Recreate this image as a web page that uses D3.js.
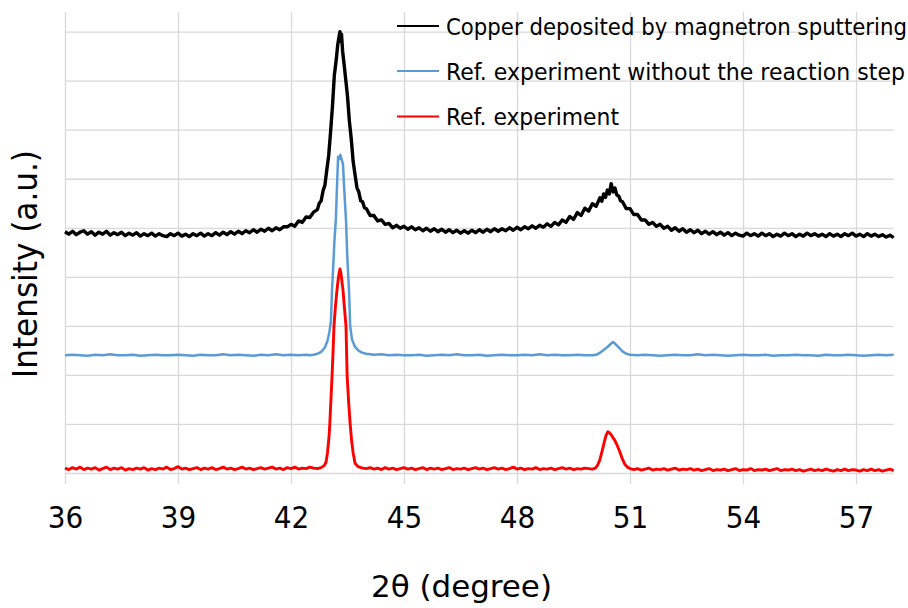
<!DOCTYPE html>
<html>
<head>
<meta charset="utf-8">
<script src="https://cdn.jsdelivr.net/npm/d3@7"></script>
<style>
  html, body { margin: 0; padding: 0; background: #fff; }
  svg { display: block; }
  text { font-family: "DejaVu Sans Condensed", "DejaVu Sans", sans-serif; fill: #000; }
</style>
</head>
<body>
<svg id="chart" width="908" height="608"></svg>
<script>
// XRD patterns, 2θ (degree) vs stacked intensity (a.u.)
const xTicks = [36, 39, 42, 45, 48, 51, 54, 57];
const yGrid = [0, 1, 2, 3, 4, 5, 6, 7, 8, 9];

const seriesNames = [
  "Copper deposited by magnetron sputtering",
  "Ref. experiment without the reaction step",
  "Ref. experiment"
];
const seriesColors = ["#000000", "#5b9bd5", "#ff0000"];

const copperSputtered = [
  [36.0,4.92],[36.1,4.87],[36.2,4.93],[36.3,4.86],[36.4,4.91],[36.5,4.94],[36.6,4.87],[36.7,4.92],[36.8,4.85],[36.9,4.91],
  [37.0,4.87],[37.1,4.93],[37.2,4.85],[37.3,4.90],[37.4,4.86],[37.5,4.91],[37.6,4.84],[37.7,4.89],[37.8,4.85],[37.9,4.90],
  [38.0,4.83],[38.1,4.88],[38.2,4.84],[38.3,4.89],[38.4,4.83],[38.5,4.88],[38.6,4.84],[38.7,4.82],[38.8,4.88],[38.9,4.84],
  [39.0,4.89],[39.1,4.83],[39.2,4.87],[39.3,4.82],[39.4,4.88],[39.5,4.84],[39.6,4.89],[39.7,4.83],[39.8,4.88],[39.9,4.84],
  [40.0,4.90],[40.1,4.85],[40.2,4.91],[40.3,4.86],[40.4,4.92],[40.5,4.87],[40.6,4.93],[40.7,4.88],[40.8,4.94],[40.9,4.90],
  [41.0,4.96],[41.1,4.91],[41.2,4.97],[41.3,4.93],[41.4,4.99],[41.5,4.94],[41.6,5.00],[41.7,4.96],[41.8,5.02],[41.9,5.02],
  [42.0,5.07],[42.1,5.03],[42.2,5.14],[42.3,5.11],[42.4,5.22],[42.5,5.21],[42.6,5.32],[42.7,5.37],[42.75,5.50],[42.8,5.55],
  [42.85,5.75],[42.9,5.87],[42.95,6.18],[43.0,6.47],[43.05,6.95],[43.1,7.47],[43.15,8.11],[43.2,8.42],[43.24,8.73],[43.27,8.87],
  [43.30,9.00],[43.32,8.80],[43.34,8.95],[43.37,8.60],[43.41,8.33],[43.46,7.97],[43.5,7.68],[43.55,7.17],[43.6,6.81],[43.65,6.35],
  [43.7,6.08],[43.75,5.82],[43.8,5.73],[43.85,5.55],[43.9,5.53],[43.95,5.41],[44.0,5.39],[44.1,5.25],[44.2,5.25],[44.3,5.14],
  [44.4,5.16],[44.5,5.07],[44.6,5.09],[44.7,5.00],[44.8,5.05],[44.9,4.99],
  [45.0,5.03],[45.1,4.97],[45.2,5.02],[45.3,4.96],[45.4,5.00],[45.5,4.94],[45.6,4.99],[45.7,4.93],[45.8,4.98],[45.9,4.92],
  [46.0,4.97],[46.1,4.91],[46.2,4.96],[46.3,4.90],[46.4,4.95],[46.5,4.89],[46.6,4.94],[46.7,4.89],[46.8,4.95],[46.9,4.90],
  [47.0,4.96],[47.1,4.91],[47.2,4.97],[47.3,4.92],[47.4,4.98],[47.5,4.93],[47.6,4.98],[47.7,4.94],[47.8,5.00],[47.9,4.95],
  [48.0,5.01],[48.1,4.96],[48.2,5.02],[48.3,4.98],[48.4,5.04],[48.5,4.99],[48.6,5.05],[48.7,5.01],[48.8,5.08],[48.9,5.03],
  [49.0,5.11],[49.1,5.06],[49.2,5.16],[49.3,5.11],[49.4,5.23],[49.5,5.17],[49.6,5.31],[49.7,5.25],[49.8,5.40],[49.9,5.34],
  [50.0,5.49],[50.1,5.44],[50.2,5.61],[50.25,5.54],[50.3,5.69],[50.35,5.62],[50.4,5.77],[50.45,5.69],[50.5,5.90],[50.55,5.73],
  [50.6,5.81],[50.65,5.67],[50.7,5.65],[50.75,5.55],[50.8,5.53],[50.9,5.39],[51.0,5.39],[51.1,5.27],[51.2,5.27],[51.3,5.16],
  [51.4,5.16],[51.5,5.07],[51.6,5.11],[51.7,5.03],[51.8,5.07],[51.9,4.99],[52.0,5.03],[52.1,4.95],[52.2,5.00],[52.3,4.93],
  [52.4,4.98],[52.5,4.91],[52.6,4.96],[52.7,4.90],[52.8,4.95],[52.9,4.88],[53.0,4.93],[53.1,4.87],[53.2,4.92],[53.3,4.86],
  [53.4,4.91],[53.5,4.85],[53.6,4.90],[53.7,4.84],[53.8,4.89],[53.9,4.85],[54.0,4.83],[54.1,4.89],[54.2,4.84],[54.3,4.88],
  [54.4,4.83],[54.5,4.89],[54.6,4.84],[54.7,4.88],[54.8,4.82],[54.9,4.87],[55.0,4.83],[55.1,4.89],[55.2,4.84],[55.3,4.88],
  [55.4,4.82],[55.5,4.87],[55.6,4.83],[55.7,4.89],[55.8,4.84],[55.9,4.88],[56.0,4.83],[56.1,4.87],[56.2,4.82],[56.3,4.88],
  [56.4,4.83],[56.5,4.87],[56.6,4.82],[56.7,4.88],[56.8,4.84],[56.9,4.89],[57.0,4.83],[57.1,4.87],[57.2,4.82],[57.3,4.88],
  [57.4,4.83],[57.5,4.87],[57.6,4.82],[57.7,4.86],[57.8,4.81],[57.9,4.85],[58.0,4.80]
];

const refNoReaction = [
  [36.0,2.40],[36.2,2.41],[36.4,2.40],[36.6,2.39],[36.8,2.41],[37.0,2.40],[37.2,2.42],[37.4,2.40],[37.6,2.40],[37.8,2.41],
  [38.0,2.39],[38.2,2.40],[38.4,2.41],[38.6,2.40],[38.8,2.40],[39.0,2.41],[39.2,2.40],[39.4,2.39],[39.6,2.41],[39.8,2.40],
  [40.0,2.40],[40.2,2.42],[40.4,2.40],[40.6,2.41],[40.8,2.40],[41.0,2.39],[41.2,2.41],[41.4,2.40],[41.6,2.42],[41.8,2.40],
  [42.0,2.41],[42.2,2.40],[42.4,2.41],[42.5,2.40],[42.6,2.41],[42.7,2.43],[42.8,2.47],[42.9,2.56],[42.97,2.70],[43.02,2.88],
  [43.06,3.10],[43.09,3.75],[43.12,4.20],[43.15,4.70],[43.19,5.16],[43.22,5.83],[43.25,6.45],[43.28,6.40],[43.31,6.49],[43.35,6.38],
  [43.38,6.30],[43.41,5.83],[43.46,5.16],[43.49,4.49],[43.52,4.00],[43.54,3.73],[43.57,3.00],[43.62,2.72],[43.7,2.57],[43.8,2.49],
  [43.9,2.45],[44.0,2.43],[44.2,2.41],[44.4,2.42],[44.6,2.40],[44.8,2.41],[45.0,2.40],[45.2,2.40],[45.4,2.41],[45.6,2.39],
  [45.8,2.40],[46.0,2.41],[46.2,2.40],[46.4,2.42],[46.6,2.40],[46.8,2.40],[47.0,2.41],[47.2,2.39],[47.4,2.40],[47.6,2.41],
  [47.8,2.40],[48.0,2.40],[48.2,2.41],[48.4,2.40],[48.6,2.42],[48.8,2.40],[49.0,2.41],[49.2,2.40],[49.4,2.40],[49.6,2.41],
  [49.8,2.40],[50.0,2.40],[50.1,2.41],[50.2,2.45],[50.3,2.51],[50.4,2.57],[50.5,2.64],[50.55,2.67],[50.6,2.64],[50.7,2.56],
  [50.8,2.48],[50.9,2.43],[51.0,2.41],[51.2,2.40],[51.4,2.41],[51.6,2.40],[51.8,2.39],[52.0,2.40],[52.2,2.41],[52.4,2.40],
  [52.6,2.40],[52.8,2.42],[53.0,2.40],[53.2,2.41],[53.4,2.40],[53.6,2.39],[53.8,2.40],[54.0,2.41],[54.2,2.40],[54.4,2.40],
  [54.6,2.41],[54.8,2.39],[55.0,2.40],[55.2,2.40],[55.4,2.41],[55.6,2.40],[55.8,2.40],[56.0,2.39],[56.2,2.41],[56.4,2.40],
  [56.6,2.40],[56.8,2.41],[57.0,2.40],[57.2,2.39],[57.4,2.40],[57.6,2.41],[57.8,2.40],[58.0,2.41]
];

const refExperiment = [
  [36.0,0.10],[36.1,0.07],[36.2,0.11],[36.3,0.08],[36.4,0.12],[36.5,0.07],[36.6,0.10],[36.7,0.08],[36.8,0.11],[36.9,0.06],
  [37.0,0.09],[37.1,0.12],[37.2,0.07],[37.3,0.10],[37.4,0.08],[37.5,0.11],[37.6,0.06],[37.7,0.09],[37.8,0.07],[37.9,0.10],
  [38.0,0.08],[38.1,0.11],[38.2,0.06],[38.3,0.09],[38.4,0.07],[38.5,0.10],[38.6,0.08],[38.7,0.12],[38.8,0.07],[38.9,0.09],
  [39.0,0.13],[39.1,0.08],[39.2,0.10],[39.3,0.07],[39.4,0.09],[39.5,0.11],[39.6,0.07],[39.7,0.10],[39.8,0.08],[39.9,0.11],
  [40.0,0.07],[40.1,0.09],[40.2,0.12],[40.3,0.08],[40.4,0.10],[40.5,0.07],[40.6,0.09],[40.7,0.12],[40.8,0.08],[40.9,0.10],
  [41.0,0.07],[41.1,0.09],[41.2,0.11],[41.3,0.08],[41.4,0.10],[41.5,0.12],[41.6,0.08],[41.7,0.10],[41.8,0.07],[41.9,0.11],
  [42.0,0.09],[42.1,0.12],[42.2,0.08],[42.3,0.10],[42.4,0.09],[42.5,0.12],[42.6,0.10],[42.7,0.09],[42.8,0.11],[42.88,0.15],
  [42.93,0.22],[42.97,0.42],[43.01,0.75],[43.03,1.00],[43.06,1.50],[43.09,1.98],[43.12,2.55],[43.14,2.99],[43.18,3.40],[43.22,3.73],
  [43.26,4.00],[43.30,4.16],[43.33,4.05],[43.36,3.85],[43.38,3.73],[43.42,3.35],[43.46,2.99],[43.49,1.98],[43.53,1.45],[43.57,1.00],
  [43.61,0.65],[43.65,0.41],[43.7,0.20],[43.78,0.13],[43.9,0.10],
  [44.0,0.09],[44.1,0.11],[44.2,0.08],[44.3,0.10],[44.4,0.07],[44.5,0.11],[44.6,0.08],[44.7,0.10],[44.8,0.07],[44.9,0.09],
  [45.0,0.11],[45.1,0.08],[45.2,0.10],[45.3,0.07],[45.4,0.09],[45.5,0.11],[45.6,0.07],[45.7,0.10],[45.8,0.08],[45.9,0.10],
  [46.0,0.07],[46.1,0.09],[46.2,0.11],[46.3,0.07],[46.4,0.09],[46.5,0.08],[46.6,0.10],[46.7,0.07],[46.8,0.09],[46.9,0.11],
  [47.0,0.08],[47.1,0.10],[47.2,0.07],[47.3,0.09],[47.4,0.11],[47.5,0.08],[47.6,0.10],[47.7,0.07],[47.8,0.09],[47.9,0.12],
  [48.0,0.08],[48.1,0.10],[48.2,0.07],[48.3,0.09],[48.4,0.08],[48.5,0.11],[48.6,0.07],[48.7,0.09],[48.8,0.08],[48.9,0.10],
  [49.0,0.07],[49.1,0.09],[49.2,0.11],[49.3,0.08],[49.4,0.10],[49.5,0.07],[49.6,0.09],[49.7,0.08],[49.8,0.10],[49.9,0.09],
  [50.0,0.08],[50.08,0.10],[50.14,0.16],[50.2,0.27],[50.26,0.45],[50.31,0.61],[50.36,0.76],[50.41,0.84],[50.45,0.82],[50.5,0.78],
  [50.55,0.72],[50.6,0.66],[50.65,0.58],[50.72,0.45],[50.79,0.30],[50.86,0.18],[50.93,0.12],[51.0,0.09],
  [51.1,0.07],[51.2,0.09],[51.3,0.06],[51.4,0.08],[51.5,0.10],[51.6,0.06],[51.7,0.08],[51.8,0.07],[51.9,0.09],
  [52.0,0.06],[52.1,0.08],[52.2,0.10],[52.3,0.06],[52.4,0.08],[52.5,0.07],[52.6,0.09],[52.7,0.06],[52.8,0.08],[52.9,0.05],
  [53.0,0.07],[53.1,0.09],[53.2,0.05],[53.3,0.07],[53.4,0.06],[53.5,0.08],[53.6,0.05],[53.7,0.07],[53.8,0.09],[53.9,0.05],
  [54.0,0.07],[54.1,0.06],[54.2,0.09],[54.3,0.05],[54.4,0.07],[54.5,0.06],[54.6,0.08],[54.7,0.05],[54.8,0.07],[54.9,0.09],
  [55.0,0.05],[55.1,0.07],[55.2,0.06],[55.3,0.08],[55.4,0.05],[55.5,0.07],[55.6,0.04],[55.7,0.06],[55.8,0.08],[55.9,0.05],
  [56.0,0.07],[56.1,0.05],[56.2,0.08],[56.3,0.06],[56.4,0.04],[56.5,0.07],[56.6,0.05],[56.7,0.08],[56.8,0.05],[56.9,0.07],
  [57.0,0.06],[57.1,0.04],[57.2,0.07],[57.3,0.05],[57.4,0.08],[57.5,0.05],[57.6,0.07],[57.7,0.04],[57.8,0.06],[57.9,0.08],
  [58.0,0.05]
];

const allSeries = [copperSputtered, refNoReaction, refExperiment];

// ---- layout ----
const svg = d3.select("#chart");
const plot = { left: 65, right: 893.7, top: 12, bottom: 473 };
const tickOut = 11;

const x = d3.scaleLinear().domain([36, 58]).range([plot.left, plot.right]);
const y = d3.scaleLinear().domain([0, 9.4]).range([plot.bottom, plot.top]);

const gridColor = "#d9d9d9";

// horizontal gridlines
const yAxis = d3.axisLeft(y).tickValues(yGrid).tickFormat("").tickSize(-(plot.right - plot.left));
svg.append("g")
  .attr("transform", `translate(${plot.left},0)`)
  .call(yAxis)
  .call(g => g.select(".domain").remove())
  .call(g => g.selectAll(".tick line").attr("stroke", gridColor).attr("stroke-width", 1.3));

// vertical gridlines, extended below the plot as tick marks, with labels
const xAxis = d3.axisBottom(x).tickValues(xTicks).tickFormat(d3.format("d"))
  .tickSize(-(plot.bottom + tickOut - plot.top));
svg.append("g")
  .attr("transform", `translate(0,${plot.bottom + tickOut})`)
  .call(xAxis)
  .call(g => g.select(".domain").remove())
  .call(g => g.selectAll(".tick line").attr("stroke", gridColor).attr("stroke-width", 1.3))
  .call(g => g.selectAll(".tick text")
     .attr("y", 0).attr("dy", 0)
     .attr("transform", "translate(0,44)")
     .style("font-family", '"DejaVu Sans Condensed", "DejaVu Sans", sans-serif')
     .style("font-size", "31px").attr("fill", "#000"));

// spectra
const line = d3.line().x(d => x(d[0])).y(d => y(d[1]));
const widths = [3.4, 2.5, 2.9];
svg.append("g").selectAll("path")
  .data(allSeries)
  .join("path")
  .attr("d", line)
  .attr("fill", "none")
  .attr("stroke", (d, i) => seriesColors[i])
  .attr("stroke-width", (d, i) => widths[i])
  .attr("stroke-linejoin", "round");

// legend
const legendRows = [
  { y: 26, base: 35, len: 461 },
  { y: 71, base: 80, len: 459 },
  { y: 116.5, base: 125, len: 173 }
];
const legend = svg.append("g");
seriesNames.forEach((name, i) => {
  legend.append("line")
    .attr("x1", 397).attr("x2", 439)
    .attr("y1", legendRows[i].y).attr("y2", legendRows[i].y)
    .attr("stroke", seriesColors[i]).attr("stroke-width", 2.2);
  legend.append("text")
    .attr("x", 446).attr("y", legendRows[i].base)
    .attr("textLength", legendRows[i].len)
    .attr("lengthAdjust", "spacingAndGlyphs")
    .style("font-size", "22.5px")
    .text(name);
});

// axis titles
svg.append("text")
  .attr("x", 371).attr("y", 597)
  .attr("textLength", 181)
  .attr("lengthAdjust", "spacingAndGlyphs")
  .style("font-size", "30px")
  .text("2θ (degree)");

svg.append("text")
  .attr("transform", "translate(37,378) rotate(-90)")
  .attr("x", 0).attr("y", 0)
  .attr("textLength", 228)
  .attr("lengthAdjust", "spacingAndGlyphs")
  .style("font-size", "33px")
  .text("Intensity (a.u.)");
</script>
</body>
</html>
